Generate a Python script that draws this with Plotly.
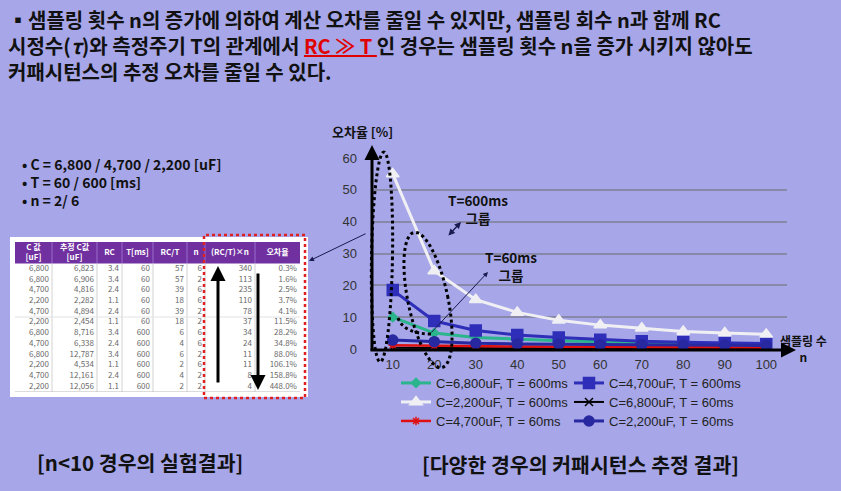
import math
import plotly.graph_objects as go

# ---------------- data ----------------
n_values = [10, 20, 30, 40, 50, 60, 70, 80, 90, 100]

err_c6800_t600 = [10.0, 5.0, 3.6, 3.0, 2.6, 2.3, 2.0, 1.8, 1.6, 1.4]
err_c4700_t600 = [18.5, 8.8, 5.8, 4.4, 3.6, 2.9, 2.4, 2.1, 1.9, 1.7]
err_c2200_t600 = [55.0, 24.5, 15.5, 11.5, 9.0, 7.5, 6.5, 5.5, 5.0, 4.6]
err_c6800_t60 = [0.4, 0.3, 0.3, 0.3, 0.2, 0.2, 0.2, 0.2, 0.2, 0.2]
err_c4700_t60 = [1.2, 1.0, 0.9, 0.8, 0.7, 0.7, 0.6, 0.6, 0.6, 0.5]
err_c2200_t60 = [2.8, 2.3, 1.8, 1.6, 1.5, 1.3, 1.3, 1.2, 1.2, 1.1]

series_names = [
    "C=6,800uF, T = 600ms", "C=4,700uF, T = 600ms",
    "C=2,200uF, T = 600ms", "C=6,800uF, T = 60ms",
    "C=4,700uF, T = 60ms", "C=2,200uF, T = 60ms",
]
y_ticks = [0, 10, 20, 30, 40, 50, 60]

table_headers = ["C 값<br>[uF]", "추정 C값<br>[uF]", "RC", "T[ms]", "RC/T", "n", "(RC/T)×n", "오차율"]
tab_c = ["6,800", "6,800", "4,700", "2,200", "4,700", "2,200", "6,800", "4,700", "6,800", "2,200", "4,700", "2,200"]
tab_c_est = ["6,823", "6,906", "4,816", "2,282", "4,894", "2,454", "8,716", "6,338", "12,787", "4,534", "12,161", "12,056"]
tab_rc = ["3.4", "3.4", "2.4", "1.1", "2.4", "1.1", "3.4", "2.4", "3.4", "1.1", "2.4", "1.1"]
tab_t = [60, 60, 60, 60, 60, 60, 600, 600, 600, 600, 600, 600]
tab_rct = [57, 57, 39, 18, 39, 18, 6, 4, 6, 2, 4, 2]
tab_n = [6, 2, 6, 6, 2, 2, 6, 6, 2, 6, 2, 2]
tab_rctn = [340, 113, 235, 110, 78, 37, 34, 24, 11, 11, 8, 4]
tab_err = ["0.3%", "1.6%", "2.5%", "3.7%", "4.1%", "11.5%", "28.2%", "34.8%", "88.0%", "106.1%", "158.8%", "448.0%"]
table_columns = [tab_c, tab_c_est, tab_rc, tab_t, tab_rct, tab_n, tab_rctn, tab_err]

title_lines = [
    "▪샘플링 횟수 n의 증가에 의하여 계산 오차를 줄일 수 있지만, 샘플링 회수 n과 함께 RC",
    "시정수(<i>τ</i>)와 측정주기 T의 관계에서 <span style='color:#E00000'><u>RC ≫ T </u></span>인 경우는 샘플링 횟수 n을 증가 시키지 않아도",
    "커패시턴스의 추정 오차를 줄일 수 있다.",
]
bullet_lines = ["• C = 6,800 / 4,700 / 2,200 [uF]", "• T = 60 / 600 [ms]", "• n = 2/ 6"]

# ---------------- helpers ----------------
W, H = 841, 491
BG = "#A6A6E8"
KR = "Noto Sans CJK KR"
LAT = "Liberation Sans, Arial, sans-serif"


def X(px):
    return px / W


def Y(py):
    return 1 - py / H


def ellipse_path(cx, cy, a, b, tilt_deg, n=72):
    t = math.radians(tilt_deg)
    pts = []
    for i in range(n + 1):
        th = 2 * math.pi * i / n
        ex, ey = b * math.cos(th), a * math.sin(th)
        x = cx + ex * math.cos(t) + ey * math.sin(t)
        y = cy - ex * math.sin(t) + ey * math.cos(t)
        pts.append((X(x), Y(y)))
    return "M " + " L ".join(f"{p[0]:.5f},{p[1]:.5f}" for p in pts) + " Z"


fig = go.Figure()

# ---------------- lines ----------------
styles = [
    dict(color="#2BB58C", symbol="diamond", size=7, width=3, legend="legend"),
    dict(color="#2E2EB8", symbol="square", size=11, width=3, legend="legend"),
    dict(color="#F0F0F4", symbol="triangle-up", size=11, width=3, legend="legend2"),
    dict(color="#000000", symbol="x-thin-open", size=8, width=2, legend="legend2"),
    dict(color="#E01010", symbol="asterisk-open", size=7, width=2.5, legend="legend3"),
    dict(color="#2828A0", symbol="circle", size=10, width=3, legend="legend3"),
]
all_series = [err_c6800_t600, err_c4700_t600, err_c2200_t600, err_c6800_t60, err_c4700_t60, err_c2200_t60]
for name, vals, st in zip(series_names, all_series, styles):
    fig.add_trace(go.Scatter(
        x=n_values, y=vals, name=name, mode="lines+markers",
        line=dict(color=st["color"], width=st["width"]),
        marker=dict(symbol=st["symbol"], size=st["size"], color=st["color"],
                    line=dict(color=st["color"], width=1.5)),
        legend=st["legend"], showlegend=True, hoverinfo="skip",
    ))

# ---------------- table (own hidden axes x2/y2) ----------------
col_w = [37, 45, 25, 31, 34, 18, 50, 45]
edges = [0]
for w in col_w:
    edges.append(edges[-1] + w)
n_rows = len(tab_c)

cx, cy, ct = [], [], []
for j, col in enumerate(table_columns):
    for i, v in enumerate(col):
        cx.append(edges[j + 1] - 3)
        cy.append(i + 0.5)
        ct.append(str(v))
fig.add_trace(go.Scatter(x=cx, y=cy, text=ct, mode="text", textposition="middle left",
                         textfont=dict(family=KR, size=8, color="#6a6a6a"),
                         xaxis="x2", yaxis="y2", showlegend=False, hoverinfo="skip"))
fig.add_trace(go.Scatter(x=[(edges[j] + edges[j + 1]) / 2 for j in range(len(col_w))],
                         y=[-1] * len(col_w), text=[f"<b>{h}</b>" for h in table_headers],
                         mode="text", textposition="middle center",
                         textfont=dict(family=KR, size=8, color="white"),
                         xaxis="x2", yaxis="y2", showlegend=False, hoverinfo="skip"))

# ---------------- shapes ----------------
shapes = [
    dict(type="rect", xref="paper", yref="paper", x0=X(10), x1=X(308), y0=Y(397), y1=Y(237),
         fillcolor="white", line=dict(width=0), layer="below"),
    dict(type="rect", xref="x2", yref="y2", x0=0, x1=edges[-1], y0=-2, y1=0,
         fillcolor="#7030A0", line=dict(width=0), layer="below"),
]
for e in edges[1:-1]:
    shapes.append(dict(type="line", xref="x2", yref="y2", x0=e, x1=e, y0=-2, y1=0,
                       line=dict(color="#9a6ccc", width=1), layer="below"))
    shapes.append(dict(type="line", xref="x2", yref="y2", x0=e, x1=e, y0=0, y1=n_rows,
                       line=dict(color="#d2d2d2", width=1), layer="below"))
for yy, col in [(5, "#e2e2e2"), (n_rows, "#b8b8b8")]:
    shapes.append(dict(type="line", xref="x2", yref="y2", x0=0, x1=edges[-1], y0=yy, y1=yy,
                       line=dict(color=col, width=1), layer="below"))

shapes += [
    dict(type="rect", xref="paper", yref="paper", x0=X(204), x1=X(305), y0=Y(398), y1=Y(235),
         line=dict(color="#E02020", width=2.5, dash="dot"), layer="above"),
    dict(type="path", xref="paper", yref="paper", path=ellipse_path(382, 257, 105, 10.5, -1),
         line=dict(color="black", width=3, dash="dot"), layer="above"),
    dict(type="path", xref="paper", yref="paper", path=ellipse_path(428, 300, 69, 20, 11.7),
         line=dict(color="black", width=3, dash="dot"), layer="above"),
    dict(type="path", xref="paper", yref="paper",
         path=f"M {X(398)},{Y(318)} Q {X(404)},{Y(334)} {X(432)},{Y(334)}",
         line=dict(color="black", width=3, dash="dot"), layer="above"),
]

# ---------------- annotations ----------------
ann = []


def txt(x, y, text, size, color="#111111", family=KR, xanchor="left", align="left", bold=True):
    ann.append(dict(x=X(x), y=Y(y), xref="paper", yref="paper", text=(f"<b>{text}</b>" if bold else text),
                    showarrow=False, xanchor=xanchor, yanchor="middle", align=align,
                    font=dict(family=family, size=size, color=color)))


def arrow(x, y, ax, ay, width=3, head=2, color="black", size=1.0, start=0):
    ann.append(dict(x=X(x), y=Y(y), xref="paper", yref="paper", text="", showarrow=True,
                    ax=ax - x, ay=ay - y, axref="pixel", ayref="pixel",
                    arrowhead=head, arrowwidth=width, arrowcolor=color, arrowsize=size,
                    startarrowhead=head, arrowside=("end+start" if start else "end")))


txt(6, 45, "<br>".join(title_lines), 20)
txt(20, 182, "<br>".join(bullet_lines), 14)

txt(140, 462, "[n<10 경우의 실험결과]", 20.5, xanchor="center")
txt(580, 464, "[다양한 경우의 커패시턴스 추정 결과]", 20.5, xanchor="center")

txt(362, 131, "오차율 [%]", 13, xanchor="center")
txt(803, 348, "샘플링 수<br>n", 12, xanchor="center", align="center")

txt(478, 209, "T=600ms<br>그룹", 13.5, xanchor="center", align="center")
txt(511, 266, "T=60ms<br>그룹", 13.5, xanchor="center", align="center")

# axis arrows
arrow(796, 350, 369, 350, width=3, head=2)
arrow(372, 145, 372, 352, width=3, head=2)
# table arrows
arrow(218, 266, 218, 384, width=3, head=2)
arrow(258, 390, 258, 272, width=3, head=2)
# pointer arrows
arrow(309, 261, 367, 233, width=1, head=2, color="#1a1a50")
arrow(461, 222, 447, 237, width=1.3, head=2, color="#1a1a50", start=1)
arrow(488, 272, 430, 334, width=1, head=2, color="#1a1a50")

legend_common = dict(orientation="h", xanchor="left", yanchor="middle", bgcolor="rgba(0,0,0,0)",
                     entrywidth=128, entrywidthmode="pixels", itemwidth=30,
                     font=dict(family=LAT, size=13, color="#222222"), borderwidth=0,
                     tracegroupgap=0, itemclick=False, itemdoubleclick=False)

fig.update_layout(
    width=W, height=H,
    margin=dict(l=0, r=0, t=0, b=0),
    paper_bgcolor=BG, plot_bgcolor="rgba(0,0,0,0)",
    template="none",
    showlegend=True,
    xaxis=dict(domain=[X(372), X(787)], range=[5, 105], tickvals=n_values, showgrid=False,
               zeroline=False, showline=False, ticks="", ticklabelstandoff=6,
               tickfont=dict(family=LAT, size=13, color="#333333"), automargin=False, fixedrange=True),
    yaxis=dict(domain=[Y(349), Y(158)], range=[0, 60], tickvals=y_ticks, showgrid=True,
               gridcolor="#8888A8", gridwidth=1.5, zeroline=False, showline=False, ticks="",
               ticklabelstandoff=14, tickfont=dict(family=LAT, size=13, color="#333333"),
               automargin=False, fixedrange=True),
    xaxis2=dict(domain=[X(15), X(300)], range=[0, edges[-1]], visible=False, fixedrange=True,
                anchor="y2", automargin=False),
    yaxis2=dict(domain=[Y(392), Y(242)], range=[n_rows, -2], visible=False, fixedrange=True,
                anchor="x2", automargin=False),
    legend=dict(x=X(396), y=Y(383), **legend_common),
    legend2=dict(x=X(396), y=Y(402), **legend_common),
    legend3=dict(x=X(396), y=Y(421), **legend_common),
    shapes=shapes,
    annotations=ann,
)

fig.write_html("out.html", config={"displayModeBar": False},
               post_script="document.body.style.margin='0';document.body.style.padding='0';")
